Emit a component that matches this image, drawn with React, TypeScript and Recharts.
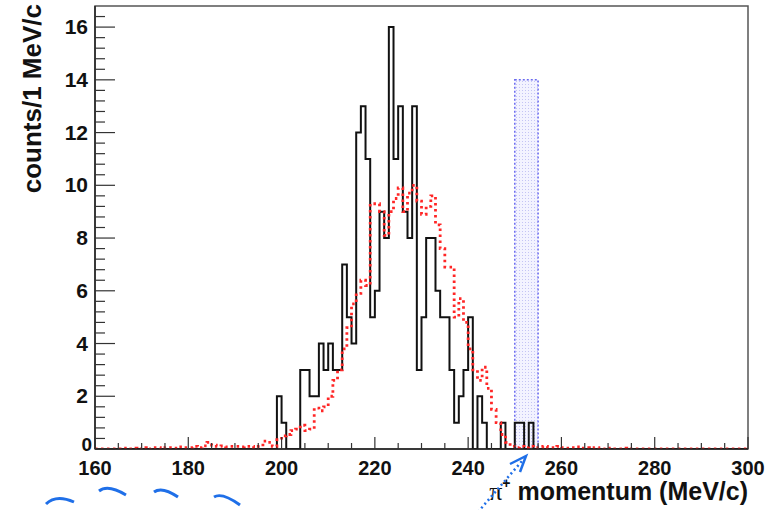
import React from 'react';
import { ComposedChart, Line, XAxis, YAxis, ReferenceArea, Label } from 'recharts';

// histogram bins: 1 MeV/c wide, first bin starts at 160 MeV/c
const BIN_START = 160;

// measured counts (black histogram), bins 160..299
const dataCounts = [
  0, 0, 0, 0, 0, 0, 0, 0, 0, 0, // 160
  0, 0, 0, 0, 0, 0, 0, 0, 0, 0, // 170
  0, 0, 0, 0, 0, 0, 0, 0, 0, 0, // 180
  0, 0, 0, 0, 0, 0, 0, 0, 0, 2, // 190
  1, 0, 0, 0, 3, 3, 2, 2, 4, 3, // 200
  4, 3, 3, 7, 5, 4, 12, 13, 11, 5, // 210
  6, 9, 8, 16, 11, 13, 9, 8, 13, 3, // 220
  5, 8, 8, 6, 5, 5, 3, 1, 2, 3, // 230
  5, 0, 2, 1, 0, 0, 0, 1, 0, 0, // 240
  1, 1, 0, 1, 0, 0, 0, 0, 0, 0, // 250
  0, 0, 0, 0, 0, 0, 0, 0, 0, 0, // 260
  0, 0, 0, 0, 0, 0, 0, 0, 0, 0, // 270
  0, 0, 0, 0, 0, 0, 0, 0, 0, 0, // 280
  0, 0, 0, 0, 0, 0, 0, 0, 0, 0, // 290
];

// simulated expectation (red dotted histogram), bins 160..299
const mcCounts = [
  0, 0, 0, 0, 0, 0, 0.03, 0, 0.03, 0, // 160
  0.05, 0, 0.05, 0.05, 0, 0.05, 0.05, 0.03, 0.08, 0.05, // 170
  0.05, 0.1, 0.05, 0.12, 0.25, 0.15, 0.1, 0.12, 0.08, 0.1, // 180
  0.1, 0.08, 0.1, 0.1, 0.05, 0.1, 0.3, 0.25, 0.1, 0.35, // 190
  0.5, 0.55, 0.7, 0.75, 0.9, 0.7, 0.75, 1.55, 1.45, 1.6, // 200
  2.0, 2.6, 3.0, 3.8, 4.6, 5.5, 5.9, 6.4, 6.2, 9.3, // 210
  9.3, 9.0, 8.1, 9.0, 9.5, 9.9, 9.0, 9.7, 10.0, 9.4, // 220
  8.9, 9.2, 9.6, 8.5, 7.6, 6.9, 6.9, 5.0, 5.7, 4.8, // 230
  3.8, 3.0, 2.6, 3.1, 2.3, 1.5, 1.0, 0.55, 0.25, 0.1, // 240
  0.05, 0.1, 0.05, 0.1, 0.05, 0.05, 0.1, 0.05, 0.05, 0.1, // 250
  0.05, 0.03, 0.05, 0.08, 0.03, 0.05, 0.03, 0.05, 0.03, 0, // 260
  0.03, 0, 0, 0.03, 0, 0, 0, 0, 0, 0, // 270
  0, 0, 0, 0, 0, 0, 0, 0, 0, 0, // 280
  0, 0, 0, 0, 0, 0, 0, 0, 0, 0, // 290
];

// signal window [from, to] and its drawn height
const signalWindow = [250, 255];
const signalHeight = 14;

const xDomain = [160, 300];
const yDomain = [0, 16.8];
const xMajorTicks = [160, 180, 200, 220, 240, 260, 280, 300];
const xTicks = [
  160, 165, 170, 175, 180, 185, 190, 195, 200, 205, 210, 215, 220, 225, 230,
  235, 240, 245, 250, 255, 260, 265, 270, 275, 280, 285, 290, 295, 300,
];
const yMajorTicks = [0, 2, 4, 6, 8, 10, 12, 14, 16];
const yTicks = [
  0, 0.4, 0.8, 1.2, 1.6, 2, 2.4, 2.8, 3.2, 3.6, 4, 4.4, 4.8, 5.2, 5.6, 6, 6.4, 6.8,
  7.2, 7.6, 8, 8.4, 8.8, 9.2, 9.6, 10, 10.4, 10.8, 11.2, 11.6, 12, 12.4, 12.8, 13.2,
  13.6, 14, 14.4, 14.8, 15.2, 15.6, 16, 16.4,
];
const yTitle = 'counts/1 MeV/c';
const xTitleRest = ' momentum (MeV/c)';

const table = dataCounts.map((c, i) => ({ x: BIN_START + i, data: c, mc: mcCounts[i] }));
table.push({
  x: BIN_START + dataCounts.length,
  data: dataCounts[dataCounts.length - 1],
  mc: mcCounts[mcCounts.length - 1],
});

const FONT = '"Liberation Sans", Arial, Helvetica, sans-serif';
const isMajor = (list: number[], v: number) => list.some((m) => Math.abs(m - v) < 1e-6);

const XTick = (props: any) => {
  const { x, y, payload } = props;
  const major = isMajor(xMajorTicks, payload.value);
  return (
    <g>
      <line x1={x} x2={x} y1={y} y2={y - (major ? 12 : 6)} stroke="#333" strokeWidth={1.2} />
      {major && (
        <text x={x} y={y + 26} textAnchor="middle" fontFamily={FONT} fontWeight="bold" fontSize={20} fill="#111">
          {payload.value}
        </text>
      )}
    </g>
  );
};

const YTick = (props: any) => {
  const { x, y, payload } = props;
  const major = isMajor(yMajorTicks, payload.value);
  const isZero = Math.abs(payload.value) < 1e-6;
  return (
    <g>
      <line x1={x} x2={x + (major ? 20 : 10)} y1={y} y2={y} stroke="#333" strokeWidth={1.2} />
      {major && (
        <text
          x={x - (isZero ? 3 : 7)}
          y={y + (isZero ? 2 : 7)}
          textAnchor="end"
          fontFamily={FONT}
          fontWeight="bold"
          fontSize={isZero ? 19 : 21}
          fill="#111"
        >
          {payload.value}
        </text>
      )}
    </g>
  );
};

const XTitle = (props: any) => {
  const vb = props.viewBox || {};
  return (
    <text x={vb.x + vb.width} y={vb.y + 51} textAnchor="end" fontFamily={FONT} fontWeight="bold" fontSize={25} fill="#111">
      <tspan fontFamily='"Liberation Serif", serif' fontWeight="normal" fontSize={26}>π</tspan>
      <tspan fontSize={14} dy={-12}>+</tspan>
      <tspan dy={12}>{xTitleRest}</tspan>
    </text>
  );
};

const YTitle = (props: any) => {
  const vb = props.viewBox || {};
  const tx = vb.x + 6;
  const ty = vb.y - 2;
  return (
    <text
      x={tx}
      y={ty}
      transform={`rotate(-90 ${tx} ${ty})`}
      textAnchor="end"
      fontFamily={FONT}
      fontWeight="bold"
      fontSize={26}
      fill="#111"
    >
      {yTitle}
    </text>
  );
};

export default function App() {
  return (
    <div style={{ position: 'absolute', left: 0, top: 0, width: 778, height: 510, background: '#fff', overflow: 'hidden' }}>
      <ComposedChart width={778} height={510} data={table} margin={{ top: 6, right: 30, bottom: 11, left: 35 }}>
        <defs>
          <pattern id="sigDots" width="3" height="3" patternUnits="userSpaceOnUse">
            <rect width="3" height="3" fill="#f3f3ff" />
            <rect width="1" height="1" fill="#c4c4f4" />
          </pattern>
        </defs>
        <XAxis
          type="number"
          dataKey="x"
          domain={xDomain}
          ticks={xTicks}
          interval={0}
          tickSize={0}
          tickMargin={0}
          tickLine={false}
          tick={XTick}
          height={50}
          allowDataOverflow
          axisLine={{ stroke: '#222', strokeWidth: 1.5 }}
        >
          <Label content={XTitle} />
        </XAxis>
        <YAxis
          type="number"
          domain={yDomain}
          ticks={yTicks}
          interval={0}
          tickSize={0}
          tickMargin={0}
          tickLine={false}
          tick={YTick}
          width={60}
          allowDataOverflow
          axisLine={{ stroke: '#222', strokeWidth: 1.5 }}
        >
          <Label content={YTitle} />
        </YAxis>
        <ReferenceArea
          x1={signalWindow[0]}
          x2={signalWindow[1]}
          y1={0}
          y2={signalHeight}
          fill="url(#sigDots)"
          fillOpacity={1}
          stroke="#6b6bf0"
          strokeWidth={1.5}
          strokeDasharray="2 2"
        />
        <Line
          dataKey="data"
          type="stepAfter"
          stroke="#111"
          strokeWidth={2}
          dot={false}
          activeDot={false}
          isAnimationActive={false}
        />
        <Line
          dataKey="mc"
          type="stepAfter"
          stroke="#ff2626"
          strokeWidth={2.8}
          strokeDasharray="2.5 3.5"
          dot={false}
          activeDot={false}
          isAnimationActive={false}
        />
        <ReferenceArea
          x1={xDomain[0]}
          x2={xDomain[1]}
          y1={yDomain[0]}
          y2={yDomain[1]}
          fill="none"
          stroke="#555"
          strokeWidth={1.5}
        />
      </ComposedChart>
      <svg width={778} height={510} style={{ position: 'absolute', left: 0, top: 0, pointerEvents: 'none' }}>
        <line x1={478} y1={512} x2={522} y2={461} stroke="#1f6fe8" strokeWidth={2.5} strokeDasharray="2 3" />
        <polyline points="510,464 526,456 520,472" fill="none" stroke="#1f6fe8" strokeWidth={2.5} />
        <path d="M46,504 Q56,494 74,502" stroke="#1f6fe8" strokeWidth={3} fill="none" />
        <path d="M99,491 Q108,484 126,495" stroke="#1f6fe8" strokeWidth={3} fill="none" />
        <path d="M154,492 Q162,486 178,497" stroke="#1f6fe8" strokeWidth={3} fill="none" />
        <path d="M214,497 Q222,492 240,505" stroke="#1f6fe8" strokeWidth={3} fill="none" />
      </svg>
    </div>
  );
}
